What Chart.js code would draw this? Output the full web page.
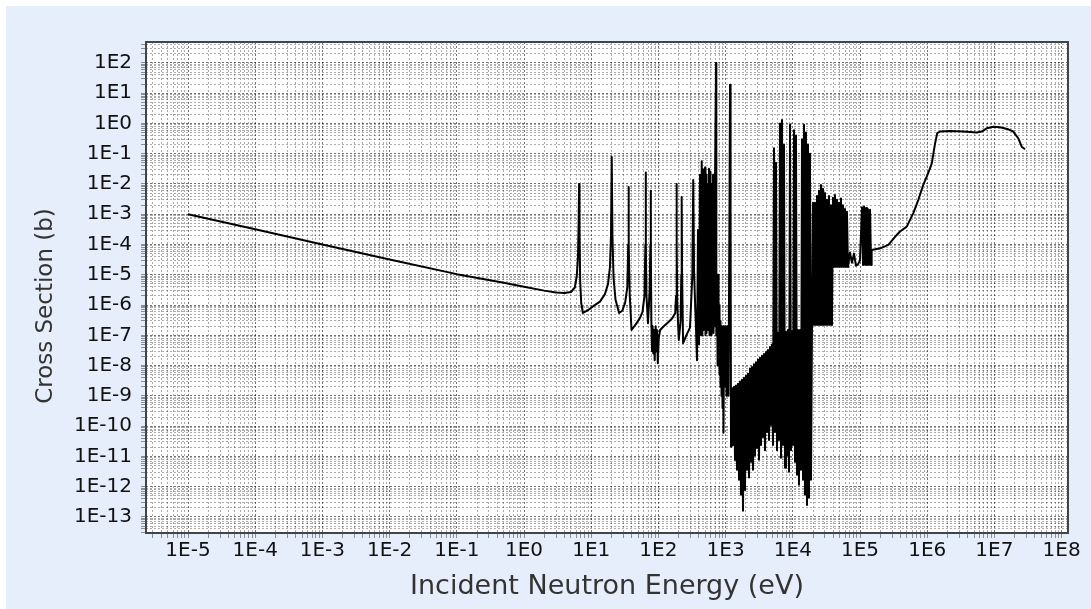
<!DOCTYPE html>
<html>
<head>
<meta charset="utf-8">
<script src="https://cdn.jsdelivr.net/npm/chart.js@4.4.1/dist/chart.umd.min.js"></script>
<style>
  html, body { margin: 0; padding: 0; background: #fff; }
  #wrap { position: absolute; left: 6px; top: 6px; width: 1085px; height: 603px; background: #e6eefc; }
</style>
</head>
<body>
<div id="wrap"><canvas id="xs"></canvas></div>
<script>
// thermal (1/v) part and first resolved resonances, eV / barns
const lowEnergy = [
  1e-5, 1e-4, 1e-3, 1e-2, 0.1, 0.5, 1, 2,
  3, 4, 5, 5.7, 6.1, 6.35, 6.5, 6.6,
  6.7, 6.85, 7.1, 7.5, 8.7, 10.6, 13.5, 16,
  17.8, 19, 19.7, 20.2, 20.7, 21.5, 23, 26,
  29, 32, 34.5, 35.5, 35.9, 36.4, 37.5, 39.8,
  46, 53, 58, 62, 64, 64.6, 65.3, 66.5,
  70, 74, 76, 76.7
];
const lowXs = [
  1.0e-3, 3.2e-4, 1.0e-4, 3.2e-5, 1.05e-5, 5.5e-6, 4.0e-6, 3.0e-6,
  2.6e-6, 2.5e-6, 2.7e-6, 3.8e-6, 9e-6, 4e-5, 5e-4, 1.0e-2,
  3e-4, 6e-6, 1.2e-6, 5.5e-7, 6.5e-7, 9e-7, 1.3e-6, 2.3e-6,
  5e-6, 1.8e-5, 2e-4, 7.8e-2, 2e-4, 8e-6, 1.5e-6, 5.5e-7,
  6.5e-7, 1.2e-6, 4e-6, 1e-4, 8e-3, 1e-4, 2e-6, 1.5e-7,
  2.3e-7, 3.7e-7, 6e-7, 2e-6, 1e-4, 2.4e-2, 1e-4, 2e-6,
  2.5e-7, 3e-6, 1e-4, 6e-3
];

// resolved resonance region up to ~1.3 keV
const resEnergy = [
  77.5, 78.5, 80.4, 82, 84, 86, 88, 91,
  93, 95, 98, 101, 106, 120, 140, 160,
  178, 183, 185.5, 187, 188.5, 191, 201, 214,
  219, 222, 225, 233, 260, 295, 320, 330,
  340, 363, 375, 388, 402, 416, 431, 441,
  451, 461, 469, 477, 494, 502, 511, 520,
  529, 547, 566, 576, 586, 596, 607, 617,
  628, 639, 650, 661, 672, 684, 695, 720,
  728, 745, 760, 771, 785, 798, 812, 826,
  840, 855, 870, 884, 900, 915, 930, 947,
  963, 980, 997, 1014, 1032, 1050, 1068, 1086,
  1105, 1140, 1163, 1185, 1203, 1224, 1245, 1267
];
const resXs = [
  1e-4, 3e-7, 3e-8, 2e-7, 2.5e-8, 1.5e-7, 1.5e-8, 2e-7,
  3e-8, 1.5e-7, 1.2e-8, 8e-8, 1.5e-7, 2.0e-7, 2.7e-7, 3.6e-7,
  5.5e-7, 2e-6, 1e-4, 1.0e-2, 1e-4, 1e-6, 7e-8, 3e-7,
  1e-5, 3.7e-3, 1e-5, 5.5e-8, 1e-7, 1.8e-7, 1e-5, 1.35e-2,
  1e-5, 1.5e-7, 1.5e-8, 3e-4, 5e-8, 2e-2, 1e-7, 5.6e-2,
  1e-7, 3e-2, 1.5e-7, 8e-3, 3.5e-2, 1e-7, 2e-2, 1.2e-7,
  1e-2, 1.5e-7, 3.2e-2, 1e-7, 2.5e-2, 1.5e-7, 1e-2, 1e-7,
  5e-3, 1.5e-7, 2e-2, 1.2e-7, 1e-2, 2e-7, 1e-3, 100,
  1e-7, 3e-6, 1e-8, 1e-5, 1e-8, 1e-6, 5e-9, 3e-7,
  2e-9, 2e-7, 1e-9, 1e-7, 4e-10, 2e-7, 6e-11, 1e-7,
  3e-9, 2e-7, 2e-9, 1e-7, 1e-9, 2e-7, 2e-9, 1e-7,
  1e-9, 1e-3, 18.8, 1e-3, 2.1e-11, 1.5e-9, 2.4e-11, 1.8e-9
];

// dense resonances 1.3 keV - 150 keV
const denseEnergy = [
  1290, 1334, 1381, 1428, 1478, 1530, 1583, 1638, 1695, 1754,
  1815, 1879, 1944, 2012, 2082, 2155, 2230, 2307, 2388, 2471,
  2557, 2646, 2738, 2834, 2933, 3035, 3141, 3250, 3364, 3481,
  3602, 3727, 3857, 3992, 4131, 4275, 4424, 4578, 4738, 4902,
  5073, 5250, 5433, 5623, 5819, 6021, 6231, 6448, 6673, 6905,
  7146, 7395, 7653, 7919, 8195, 8480, 8776, 9082, 9398, 9725,
  10065, 10415, 10778, 11153, 11542, 11944, 12360, 12791, 13237, 13698,
  14175, 14669, 15180, 15709, 16256, 16823, 17409, 18015, 18643, 19292,
  19960, 20660, 21380, 22124, 22900, 23693, 24520, 25372, 26260, 27171,
  28120, 29097, 30110, 31160, 32250, 33369, 34530, 35734, 36980, 38267,
  39600, 40980, 42410, 43885, 45420, 46996, 48640, 50327, 52080, 53895,
  55770, 57716, 59730, 61807, 63960, 66189, 70881, 75905, 81286, 87049,
  93219, 100000, 107000, 111000, 115000, 119000, 123000, 127000, 131000, 136000,
  141000, 146000
];
const denseXs = [
  2.4e-11, 2.0e-9, 7.6e-12, 2.2e-9, 3.6e-12, 2.5e-9, 1.7e-12, 3.0e-9, 5.4e-13, 3.4e-9,
  1.6e-13, 4.0e-9, 7.8e-13, 4.6e-9, 3.6e-12, 5.4e-9, 2.0e-12, 8.0e-9, 6.6e-12, 9.0e-9,
  3.6e-12, 1.1e-8, 1.1e-11, 1.3e-8, 1.9e-11, 1.6e-8, 7.7e-12, 1.8e-8, 2.4e-11, 2.1e-8,
  4.4e-11, 2.4e-8, 1.6e-11, 2.8e-8, 6.4e-11, 3.3e-8, 3.5e-11, 4.1e-8, 1.1e-10, 5.0e-8,
  2.4e-11, 0.15, 6.4e-11, 0.05, 1.6e-11, 1.2e-7, 3.5e-11, 1.0, 9.0e-12, 1.3,
  2.4e-11, 0.2, 4.2e-12, 1.3e-7, 1.1e-11, 1.5e-7, 3.1e-12, 0.9, 1.6e-11, 1.4e-7,
  2.4e-11, 0.6, 6.6e-12, 0.4, 2.5e-12, 1.5e-7, 1.15e-12, 1.5e-7, 3.6e-12, 0.3,
  1.7e-12, 0.9, 5.4e-13, 0.5, 2.5e-13, 0.2, 4.3e-13, 0.1, 1.7e-12, 2.2e-7,
  2.4e-3, 2.2e-7, 2.4e-3, 2.2e-7, 4e-3, 2.2e-7, 6e-3, 2.2e-7, 9.3e-3, 2.2e-7,
  7e-3, 2.2e-7, 5e-3, 2.2e-7, 3e-3, 2.2e-7, 4e-3, 2.2e-7, 2e-3, 2.2e-7,
  3.5e-3, 1.8e-5, 4.3e-3, 1.8e-5, 3e-3, 1.8e-5, 2.4e-3, 1.8e-5, 3.3e-3, 1.8e-5,
  2e-3, 1.8e-5, 1.5e-3, 1.8e-5, 1.2e-3, 1.8e-5, 5.3e-5, 2.5e-5, 5e-5, 2e-5,
  2.2e-5, 3e-5, 1.7e-3, 2.1e-5, 1.8e-3, 2.1e-5, 1.6e-3, 2.1e-5, 1.5e-3, 2.1e-5,
  1.4e-3, 2.1e-5
];

// smooth fast-neutron part
const fastEnergy = [
  1.49e5, 2.0e5, 2.64e5, 3.32e5, 3.94e5, 4.96e5, 6.21e5, 7.38e5, 8.75e5,
  9.84e5, 1.10e6, 1.17e6, 1.31e6, 1.41e6, 1.55e6, 2.18e6, 3.44e6, 5.45e6,
  6.47e6, 7.68e6, 9.64e6, 1.21e7, 1.61e7, 1.91e7, 2.27e7, 2.55e7, 2.85e7
];
const fastXs = [
  6.6e-5, 7.5e-5, 9.7e-5, 1.8e-4, 2.7e-4, 3.9e-4, 1.09e-3, 3.0e-3, 9.4e-3,
  1.74e-2, 3.3e-2, 4.8e-2, 0.22, 0.48, 0.54, 0.56, 0.54, 0.50,
  0.54, 0.69, 0.78, 0.75, 0.64, 0.54, 0.32, 0.17, 0.14
];

const xTickExps = [-5, -4, -3, -2, -1, 0, 1, 2, 3, 4, 5, 6, 7, 8];
const xTickLabels = ['1E-5', '1E-4', '1E-3', '1E-2', '1E-1', '1E0', '1E1', '1E2', '1E3', '1E4', '1E5', '1E6', '1E7', '1E8'];
const yTickExps = [-13, -12, -11, -10, -9, -8, -7, -6, -5, -4, -3, -2, -1, 0, 1, 2];
const yTickLabels = ['1E-13', '1E-12', '1E-11', '1E-10', '1E-9', '1E-8', '1E-7', '1E-6', '1E-5', '1E-4', '1E-3', '1E-2', '1E-1', '1E0', '1E1', '1E2'];

const xTitle = 'Incident Neutron Energy (eV)';
const yTitle = 'Cross Section (b)';

const xMin = 2.37e-6, xMax = 1.245e8;
const yMin = 2.95e-14, yMax = 490;

function decadeTicks(min, max, exps, labels) {
  const out = [];
  for (let e = Math.floor(Math.log10(min)); e <= Math.ceil(Math.log10(max)); e++) {
    for (let m = 1; m <= 9; m++) {
      const v = Number(m + 'e' + e);
      if (v < min || v > max) continue;
      const i = exps.indexOf(e);
      out.push({ value: v, major: m === 1, label: (m === 1 && i >= 0) ? labels[i] : '' });
    }
  }
  return out;
}
const xTicks = decadeTicks(xMin, xMax, xTickExps, xTickLabels);
const yTicks = decadeTicks(yMin, yMax, yTickExps, yTickLabels);

const points = [];
[[lowEnergy, lowXs], [resEnergy, resXs], [denseEnergy, denseXs], [fastEnergy, fastXs]].forEach(([e, s]) => {
  e.forEach((v, i) => points.push({ x: v, y: s[i] }));
});

const gridColor = (ctx) => (ctx.tick && ctx.tick.major) ? 'rgba(0,0,0,0.55)' : 'rgba(0,0,0,0.33)';

const framePlugin = {
  id: 'frame',
  beforeDraw(chart) {
    const { ctx, chartArea: a } = chart;
    ctx.save();
    ctx.fillStyle = '#ffffff';
    ctx.fillRect(a.left, a.top, a.right - a.left, a.bottom - a.top);
    ctx.restore();
  },
  afterDraw(chart) {
    const { ctx, chartArea: a } = chart;
    ctx.save();
    ctx.strokeStyle = '#444';
    ctx.lineWidth = 2;
    ctx.strokeRect(a.left, a.top, a.right - a.left, a.bottom - a.top);
    // y axis title, sits a little below the plot middle like the original
    ctx.translate(40, 300);
    ctx.rotate(-Math.PI / 2);
    ctx.font = '23px "DejaVu Sans"';
    ctx.fillStyle = '#333';
    ctx.textAlign = 'center';
    ctx.textBaseline = 'middle';
    ctx.fillText(yTitle, 0, 0);
    ctx.restore();
  }
};

const tickFont = { family: 'DejaVu Sans', size: 20 };

new Chart(document.getElementById('xs'), {
  type: 'line',
  data: {
    datasets: [{
      label: 'Cross Section',
      data: points,
      borderColor: '#000',
      borderWidth: 2,
      borderJoinStyle: 'round',
      pointRadius: 0,
      tension: 0,
      fill: false
    }]
  },
  options: {
    responsive: true,
    maintainAspectRatio: false,
    animation: false,
    devicePixelRatio: 1,
    layout: { padding: { top: 36, right: 23, bottom: 0, left: 0 } },
    plugins: { legend: { display: false }, tooltip: { enabled: false } },
    scales: {
      x: {
        type: 'logarithmic',
        min: xMin,
        max: xMax,
        afterBuildTicks: (s) => { s.ticks = xTicks.map(t => ({ value: t.value, major: t.major })); },
        afterFit: (s) => { s.height = 76; },
        ticks: {
          autoSkip: false, maxRotation: 0, padding: 1,
          color: '#111', font: tickFont,
          callback: (v, i) => xTicks[i] ? xTicks[i].label : ''
        },
        grid: { color: gridColor, tickLength: 5, tickColor: 'rgba(0,0,0,0.4)' },
        border: { display: false, dash: [2, 2] },
        title: {
          display: true, text: xTitle, color: '#333',
          font: { family: 'DejaVu Sans', size: 27 }, padding: { top: 0, bottom: 6 }
        }
      },
      y: {
        type: 'logarithmic',
        min: yMin,
        max: yMax,
        afterBuildTicks: (s) => { s.ticks = yTicks.map(t => ({ value: t.value, major: t.major })); },
        afterFit: (s) => { s.width = 140; },
        ticks: {
          autoSkip: false, padding: 9,
          color: '#111', font: tickFont,
          callback: (v, i) => yTicks[i] ? yTicks[i].label : ''
        },
        grid: { color: gridColor, tickLength: 5, tickColor: 'rgba(0,0,0,0.4)' },
        border: { display: false, dash: [2, 2] },
        title: { display: false }
      }
    }
  },
  plugins: [framePlugin]
});
</script>
</body>
</html>
